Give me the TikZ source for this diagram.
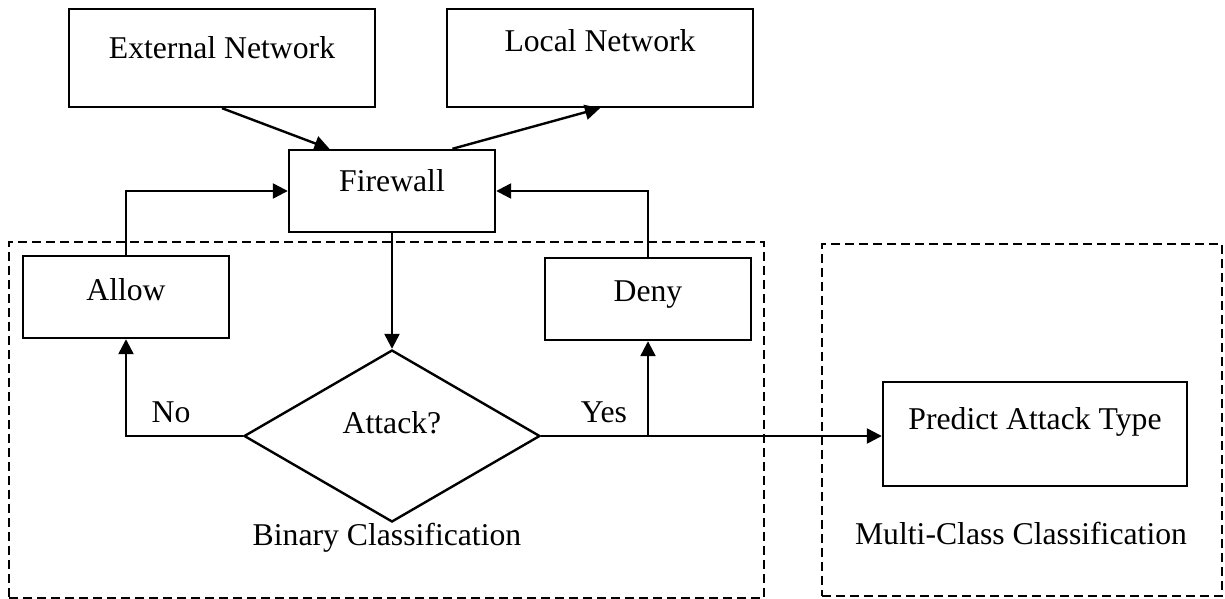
\documentclass[tikz,border=0pt]{standalone}
\usepackage{fontspec}
\setmainfont{Liberation Serif}
\usetikzlibrary{shapes.geometric,arrows.meta,calc}
\begin{document}
\begin{tikzpicture}[x=0.5pt,y=-0.5pt,
  box/.style={draw,line width=1.2pt,minimum width=103pt,minimum height=41pt,inner sep=0pt},
  region/.style={draw,line width=1.1pt,dash pattern=on 4.5pt off 2.5pt,inner sep=0pt},
  txt/.style={anchor=base,inner sep=0pt,font=\fontsize{15.85pt}{19pt}\selectfont},
  arr/.style={line width=1.2pt,-{Triangle[length=7.5pt,width=7.5pt]}}]
\useasboundingbox (0,0) rectangle (1225,599);
% regions
\node[region,minimum width=377.5pt,minimum height=178pt] (bin) at (386.5,420) {};
\node[region,minimum width=200pt,minimum height=176pt] (multi) at (1022,420) {};
% boxes
\node[box,minimum width=153pt,minimum height=49pt] (ext) at (222,58) {};
\node[box,minimum width=153pt,minimum height=49pt] (loc) at (600,58) {};
\node[box] (fw) at (392,191) {};
\node[box] (allow) at (126,297) {};
\node[box] (deny) at (648,299) {};
\node[draw,diamond,line width=1.2pt,inner sep=0pt,minimum width=148pt,minimum height=86pt] (dia) at (392,436) {};
\node[box,minimum width=152pt,minimum height=52pt] (pred) at (1035,434) {};
% texts
\node[txt] (extT) at (222,59) {External Network};
\node[txt] (locT) at (600,52) {Local Network};
\node[txt] (fwT) at (392,191) {Firewall};
\node[txt] (allowT) at (126,300) {Allow};
\node[txt] (denyT) at (648,301) {Deny};
\node[txt] (diaT) at (392,433) {Attack?};
\node[txt] (predT) at (1035,429) {Predict Attack Type};
\node[txt] (noT) at (171,422) {No};
\node[txt] (yesT) at (604,422) {Yes};
\node[txt] (binT) at (387,545) {Binary Classification};
\node[txt] (multiT) at (1021,544) {Multi-Class Classification};
% connectors
\draw[arr] (ext.south) -- ($(fw.north west)!0.2!(fw.north east)$);
\draw[arr] ($(fw.north west)!0.79!(fw.north east)$) -- (loc.south);
\draw[arr] (fw.south) -- (dia.north);
\draw[arr] (dia.west) -| (allow.south);
\draw[arr] (allow.north) |- (fw.west);
\draw[arr] (dia.east) -| (deny.south);
\draw[arr] (deny.north) |- (fw.east);
\draw[arr] (dia.east) -- (dia.east -| pred.west);
\end{tikzpicture}
\end{document}
